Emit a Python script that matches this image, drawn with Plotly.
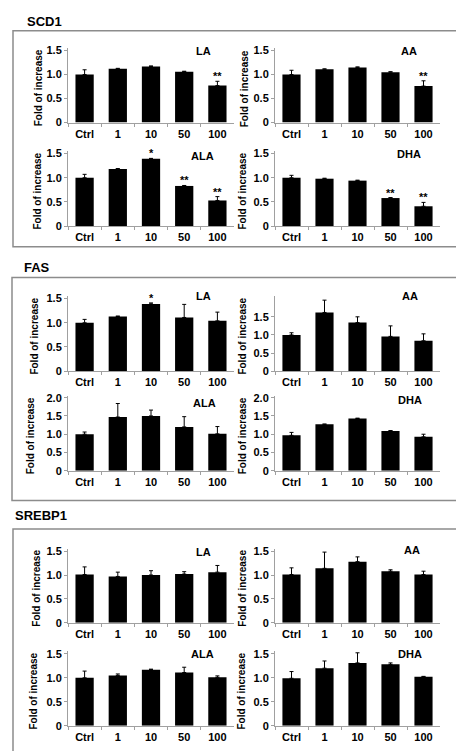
import plotly.graph_objects as go

W, H = 464, 751

genes = ["SCD1", "FAS", "SREBP1"]
acids = ["LA", "AA", "ALA", "DHA"]
categories = ["Ctrl", "1", "10", "50", "100"]
y_title = "Fold of increase"

# ---- SCD1 ----
scd1_la = [1.00, 1.12, 1.17, 1.06, 0.77]
scd1_la_err = [0.10, 0.01, 0.01, 0.01, 0.09]
scd1_la_sig = ["", "", "", "", "**"]
scd1_aa = [1.00, 1.11, 1.15, 1.05, 0.76]
scd1_aa_err = [0.09, 0.01, 0.01, 0.01, 0.11]
scd1_aa_sig = ["", "", "", "", "**"]
scd1_ala = [1.00, 1.18, 1.39, 0.83, 0.53]
scd1_ala_err = [0.07, 0.01, 0.01, 0.01, 0.08]
scd1_ala_sig = ["", "", "*", "**", "**"]
scd1_dha = [1.00, 0.98, 0.94, 0.58, 0.41]
scd1_dha_err = [0.05, 0.01, 0.01, 0.01, 0.08]
scd1_dha_sig = ["", "", "", "**", "**"]

# ---- FAS ----
fas_la = [1.00, 1.13, 1.39, 1.11, 1.04]
fas_la_err = [0.07, 0.01, 0.02, 0.27, 0.18]
fas_la_sig = ["", "", "*", "", ""]
fas_aa = [1.00, 1.62, 1.34, 0.96, 0.84]
fas_aa_err = [0.06, 0.34, 0.16, 0.29, 0.19]
fas_aa_sig = ["", "", "", "", ""]
fas_ala = [1.00, 1.47, 1.50, 1.20, 1.01]
fas_ala_err = [0.06, 0.37, 0.16, 0.28, 0.20]
fas_ala_sig = ["", "", "", "", ""]
fas_dha = [0.97, 1.27, 1.43, 1.09, 0.93]
fas_dha_err = [0.08, 0.01, 0.01, 0.01, 0.07]
fas_dha_sig = ["", "", "", "", ""]

# ---- SREBP1 ----
srebp1_la = [1.01, 0.97, 1.00, 1.02, 1.06]
srebp1_la_err = [0.16, 0.09, 0.09, 0.05, 0.14]
srebp1_la_sig = ["", "", "", "", ""]
srebp1_aa = [1.01, 1.14, 1.28, 1.08, 1.01]
srebp1_aa_err = [0.14, 0.34, 0.10, 0.03, 0.07]
srebp1_aa_sig = ["", "", "", "", ""]
srebp1_ala = [1.00, 1.05, 1.17, 1.11, 1.01]
srebp1_ala_err = [0.14, 0.03, 0.01, 0.11, 0.03]
srebp1_ala_sig = ["", "", "", "", ""]
srebp1_dha = [0.99, 1.20, 1.31, 1.28, 1.02]
srebp1_dha_err = [0.14, 0.15, 0.21, 0.03, 0.01]
srebp1_dha_sig = ["", "", "", "", ""]

ticks_15 = [0, 0.5, 1.0, 1.5]
ticks_20 = [0, 0.5, 1.0, 1.5, 2.0]
tick_text_15 = ["0", "0.5", "1.0", "1.5"]
tick_text_20 = ["0", "0.5", "1.0", "1.5", "2.0"]

panels = [
    ("SCD1", "LA", scd1_la, scd1_la_err, scd1_la_sig, ticks_15, tick_text_15),
    ("SCD1", "AA", scd1_aa, scd1_aa_err, scd1_aa_sig, ticks_15, tick_text_15),
    ("SCD1", "ALA", scd1_ala, scd1_ala_err, scd1_ala_sig, ticks_15, tick_text_15),
    ("SCD1", "DHA", scd1_dha, scd1_dha_err, scd1_dha_sig, ticks_15, tick_text_15),
    ("FAS", "LA", fas_la, fas_la_err, fas_la_sig, ticks_15, tick_text_15),
    ("FAS", "AA", fas_aa, fas_aa_err, fas_aa_sig, ticks_15, tick_text_15),
    ("FAS", "ALA", fas_ala, fas_ala_err, fas_ala_sig, ticks_20, tick_text_20),
    ("FAS", "DHA", fas_dha, fas_dha_err, fas_dha_sig, ticks_20, tick_text_20),
    ("SREBP1", "LA", srebp1_la, srebp1_la_err, srebp1_la_sig, ticks_15, tick_text_15),
    ("SREBP1", "AA", srebp1_aa, srebp1_aa_err, srebp1_aa_sig, ticks_15, tick_text_15),
    ("SREBP1", "ALA", srebp1_ala, srebp1_ala_err, srebp1_ala_sig, ticks_15, tick_text_15),
    ("SREBP1", "DHA", srebp1_dha, srebp1_dha_err, srebp1_dha_sig, ticks_15, tick_text_15),
]

# ---- layout geometry (target pixels in the screenshot) ----
col_x = [(68, 234), (275, 440)]
row_geom = [
    (120, 44.7, 1.55), (120, 44.7, 1.55),
    (225, 149, 1.55), (225, 149, 1.55),
    (372, 296, 1.55), (372, 296, 2.07),
    (473, 397, 2.05), (473, 397, 2.05),
    (627, 552, 1.55), (627, 552, 1.55),
    (731.5, 656, 1.55), (731.5, 656, 1.55),
]
ytitle_x = [38, 244, 38, 243, 35, 243, 30, 242, 37, 243, 34, 242]
label_pos = [(203, 48), (409, 48), (202, 154), (409, 152),
             (203, 296), (410, 296), (204, 404), (410, 401),
             (203, 555), (412, 553), (202, 659), (410, 659)]

OFF = 8  # page body margin offset of the rendered figure


def px(x):
    return (x - OFF) / W


def py(y):
    return 1 - (y - OFF) / H


GRAY = "#a0a0a0"
FONT = "Liberation Sans"
fig = go.Figure()
annotations = []
layout_axes = {}

for i, (gene, acid, mean, err, sig, yt, ytt) in enumerate(panels):
    k = i + 1
    c = i % 2
    x0, x1 = col_x[c]
    yb, ytop, ymax = row_geom[i]
    xa = "x" if k == 1 else f"x{k}"
    ya = "y" if k == 1 else f"y{k}"
    fig.add_trace(go.Bar(
        x=categories, y=mean,
        xaxis=xa, yaxis=ya,
        width=0.55,
        marker=dict(color="black", line=dict(width=0)),
        error_y=dict(type="data", symmetric=False, array=err,
                     arrayminus=[0] * len(err), color="black",
                     thickness=1, width=2),
        showlegend=False,
        hovertemplate=f"{gene} {acid} %{{x}}: %{{y}}<extra></extra>",
    ))
    xkey = "xaxis" if k == 1 else f"xaxis{k}"
    ykey = "yaxis" if k == 1 else f"yaxis{k}"
    layout_axes[xkey] = dict(
        domain=[px(x0), px(x1)], anchor=ya, type="category",
        categoryorder="array", categoryarray=categories,
        range=[-0.5, len(categories) - 0.5], autorange=False,
        showline=True, linecolor=GRAY, linewidth=1,
        ticks="outside", tickson="boundaries", ticklen=3, tickcolor=GRAY,
        tickangle=0, ticklabelstandoff=1,
        tickfont=dict(family=FONT, size=11, color="black", weight="bold"),
        showgrid=False, fixedrange=True,
    )
    layout_axes[ykey] = dict(
        domain=[py(yb), py(ytop)], anchor=xa, range=[0, ymax],
        autorange=False,
        tickvals=yt, ticktext=ytt,
        showline=True, linecolor=GRAY, linewidth=1,
        ticks="outside", ticklen=3, tickcolor=GRAY,
        tickfont=dict(family=FONT, size=11, color="black", weight="bold"),
        showgrid=False, zeroline=False, fixedrange=True,
    )
    annotations.append(dict(
        text=y_title, xref="paper", yref="paper",
        x=px(ytitle_x[i]), y=py((yb + ytop) / 2 + 3),
        textangle=-90, showarrow=False,
        font=dict(family=FONT, size=10, color="black", weight="bold"),
        xanchor="center", yanchor="middle",
    ))
    lx, ly = label_pos[i]
    annotations.append(dict(
        text=acid, xref="paper", yref="paper", x=px(lx), y=py(ly),
        showarrow=False, xanchor="center", yanchor="middle",
        font=dict(family=FONT, size=11, color="black", weight="bold"),
    ))
    for j, (m, e, s) in enumerate(zip(mean, err, sig)):
        if s:
            annotations.append(dict(
                text=s, xref=xa, yref=ya, x=j, y=m + e,
                showarrow=False, xanchor="center", yanchor="bottom",
                yshift=-3,
                font=dict(family=FONT, size=11, color="black", weight="bold"),
            ))

title_pos = [(25, 18), (22, 267), (13, 518)]
boxes = [(13, 27, 461, 246), (12, 277, 461, 503), (13, 532, 461, 758)]
shapes = []
for g, (tx, ty), (bx0, by0, bx1, by1) in zip(genes, title_pos, boxes):
    annotations.append(dict(
        text=g, xref="paper", yref="paper", x=px(tx), y=py(ty),
        showarrow=False, xanchor="left", yanchor="middle",
        font=dict(family=FONT, size=13, color="black", weight="bold"),
    ))
    shapes.append(dict(
        type="rect", xref="paper", yref="paper",
        x0=px(bx0), x1=px(bx1), y0=py(by0), y1=py(by1),
        line=dict(color="#8c8c8c", width=1.5), fillcolor="rgba(0,0,0,0)",
        layer="below",
    ))

fig.update_layout(
    width=W, height=H,
    margin=dict(l=0, r=0, t=0, b=0),
    paper_bgcolor="white", plot_bgcolor="white",
    annotations=annotations, shapes=shapes,
    bargap=0.45,
    **layout_axes,
)

fig.write_html("out.html", config={"displayModeBar": False})
